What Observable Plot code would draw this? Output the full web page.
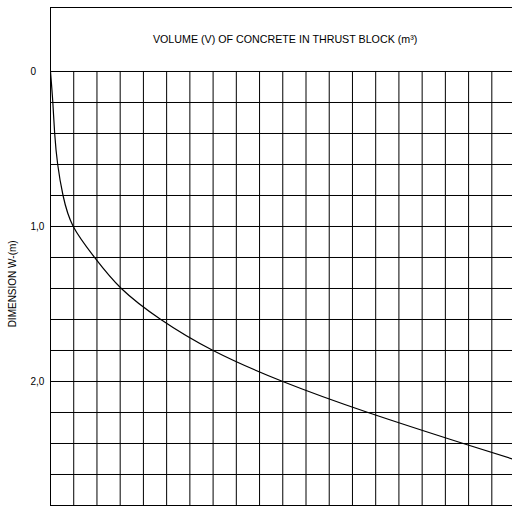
<!DOCTYPE html>
<html>
<head>
<meta charset="utf-8">
<script src="https://cdn.jsdelivr.net/npm/d3@7"></script>
<script src="https://cdn.jsdelivr.net/npm/@observablehq/plot@0.6"></script>
<style>
  html, body { margin: 0; padding: 0; background: #fff; overflow: hidden; }
</style>
</head>
<body>
<div id="chart"></div>
<script>
// Curve: volume V (grid columns) vs dimension W (m)
const volume = [0, 0.1, 0.18, 0.31, 0.54, 0.98, 1.9, 3.05, 4.75, 7.0, 10.0, 13.67, 17.77, 19.9];
const dimension = [0, 0.2, 0.4, 0.6, 0.8, 1.0, 1.2, 1.4, 1.6, 1.8, 2.0, 2.2, 2.4, 2.5];

// Grid and tick definitions
const xGrid = d3.range(0, 20);
const yGrid = d3.range(0, 15).map(i => i * 0.2);
const yTicks = [0, 1, 2];
const yTickLabels = ["0", "1,0", "2,0"];
const titleText = "VOLUME (V) OF CONCRETE IN THRUST BLOCK (m³)";
const yLabelText = "DIMENSION W-(m)";

const xMax = 19.89;
const yTop = -0.4129;
const yBottom = 2.8;

const curve = volume.map((v, i) => ({v, w: dimension[i]}));

const chart = Plot.plot({
  width: 512,
  height: 506,
  marginLeft: 50,
  marginRight: 0,
  marginTop: 7,
  marginBottom: 1,
  style: {fontFamily: "'Liberation Sans', Arial, sans-serif", fontSize: "10px", background: "#fff", color: "#000"},
  x: {domain: [0, xMax], axis: null},
  y: {domain: [yTop, yBottom], reverse: true, axis: null},
  marks: [
    Plot.ruleX(xGrid, {x: d => d, y1: 0, y2: yBottom, stroke: "#000", strokeWidth: 1}),
    Plot.ruleX([0], {y1: yTop, y2: yBottom, stroke: "#000", strokeWidth: 1}),
    Plot.ruleY(yGrid, {y: d => d, x1: 0, x2: xMax, stroke: "#000", strokeWidth: 1}),
    Plot.ruleY([yTop], {x1: 0, x2: xMax, stroke: "#000", strokeWidth: 1}),
    Plot.text([titleText], {x: 10.1, y: yTop / 2, text: d => d, fill: "#000", fontSize: 10.7}),
    Plot.text(yTicks, {x: 0, y: d => d, text: (d, i) => yTickLabels[i], textAnchor: "start", dx: -20, fill: "#000", fontSize: 10}),
    Plot.text([yLabelText], {x: 0, y: 1.37, text: d => d, rotate: -90, dx: -38, fill: "#000", fontSize: 10}),
    Plot.line(curve, {x: "v", y: "w", curve: "natural", stroke: "#000", strokeWidth: 1.2, clip: true})
  ]
});
document.getElementById("chart").append(chart);
</script>
</body>
</html>
